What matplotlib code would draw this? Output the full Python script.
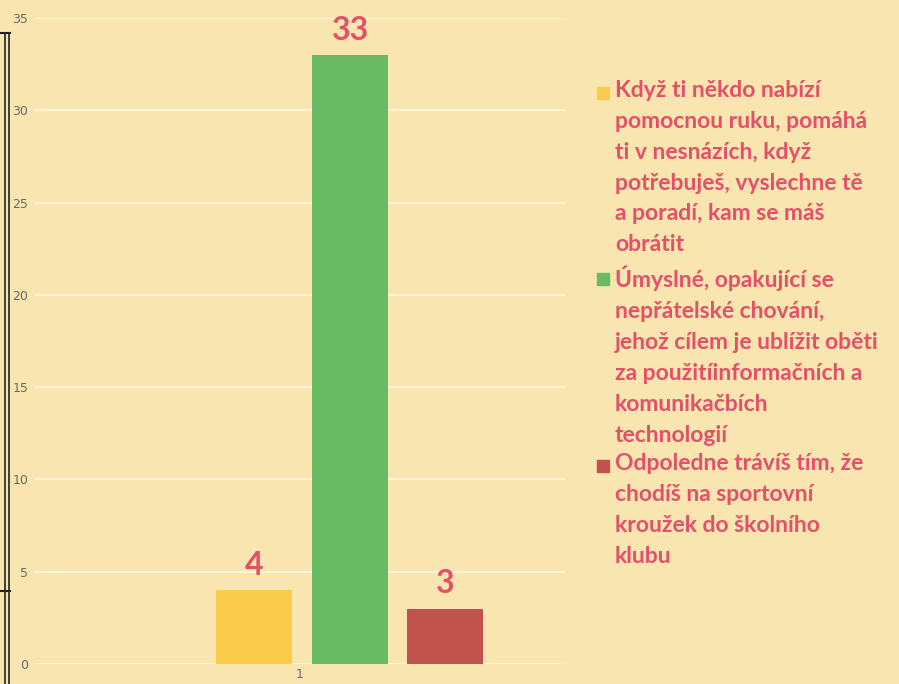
import matplotlib.pyplot as plt
from matplotlib.lines import Line2D
from matplotlib.patches import Rectangle

# data
categories = ["1"]
series_labels = [
    "Když ti někdo nabízí\npomocnou ruku, pomáhá\nti v nesnázích, když\npotřebuješ, vyslechne tě\na poradí, kam se máš\nobrátit",
    "Úmyslné, opakující se\nnepřátelské chování,\njehož cílem je ublížit oběti\nza použitíinformačních a\nkomunikačbích\ntechnologií",
    "Odpoledne trávíš tím, že\nchodíš na sportovní\nkroužek do školního\nklubu",
]
values = [4, 33, 3]
colors = ["#FBCB4C", "#68BB62", "#C1534F"]
y_ticks = [0, 5, 10, 15, 20, 25, 30, 35]

bg = "#F9E5B0"
pink = "#E4506A"

W, H = 899, 684
fig = plt.figure(figsize=(W / 100, H / 100), dpi=100)
fig.patch.set_facecolor(bg)

ax = fig.add_axes([35 / W, 20 / H, (565 - 35) / W, (664 - 18) / H])
ax.set_facecolor(bg)

offsets = [-0.174, 0.189, 0.547]
width = 0.287
for off, v, c in zip(offsets, values, colors):
    ax.bar(off, v, width=width, color=c, zorder=2)
    ax.text(off, v + 0.55, str(v), ha="center", va="bottom", color=pink,
            fontsize=23, fontweight="bold", family="Lato")

ax.set_xlim(-1, 1)
ax.set_ylim(0, 35)
ax.set_yticks(y_ticks)
ax.set_xticks([0])
ax.set_xticklabels(categories)
ax.grid(axis="y", color="#FDF6E2", linewidth=1.2, zorder=0)
ax.tick_params(length=0, labelsize=9, labelcolor="#6a6a6a", pad=3)
ax.tick_params(axis="y", pad=5)
for s in ax.spines.values():
    s.set_visible(False)

# legend drawn by hand
entry_tops = [80, 266, 453]
for top, lab, c in zip(entry_tops, series_labels, colors):
    fig.patches.append(Rectangle((597 / W, 1 - (top + 19) / H), 12 / W, 12 / H,
                                 transform=fig.transFigure, color=c))
    fig.text(615 / W, 1 - top / H, lab, ha="left", va="top", color=pink,
             fontsize=16.5, fontweight="bold", family="Lato", linespacing=1.58)

# scanned page border on the left
for x in (5, 9):
    fig.add_artist(Line2D([x / W, x / W], [0, 1 - 33 / H], color="#222222", lw=1.2))
for y in (33, 591):
    fig.add_artist(Line2D([0, 10 / W], [1 - y / H, 1 - y / H], color="#222222", lw=1.5))

fig.savefig("out.png", dpi=100, facecolor=bg)
